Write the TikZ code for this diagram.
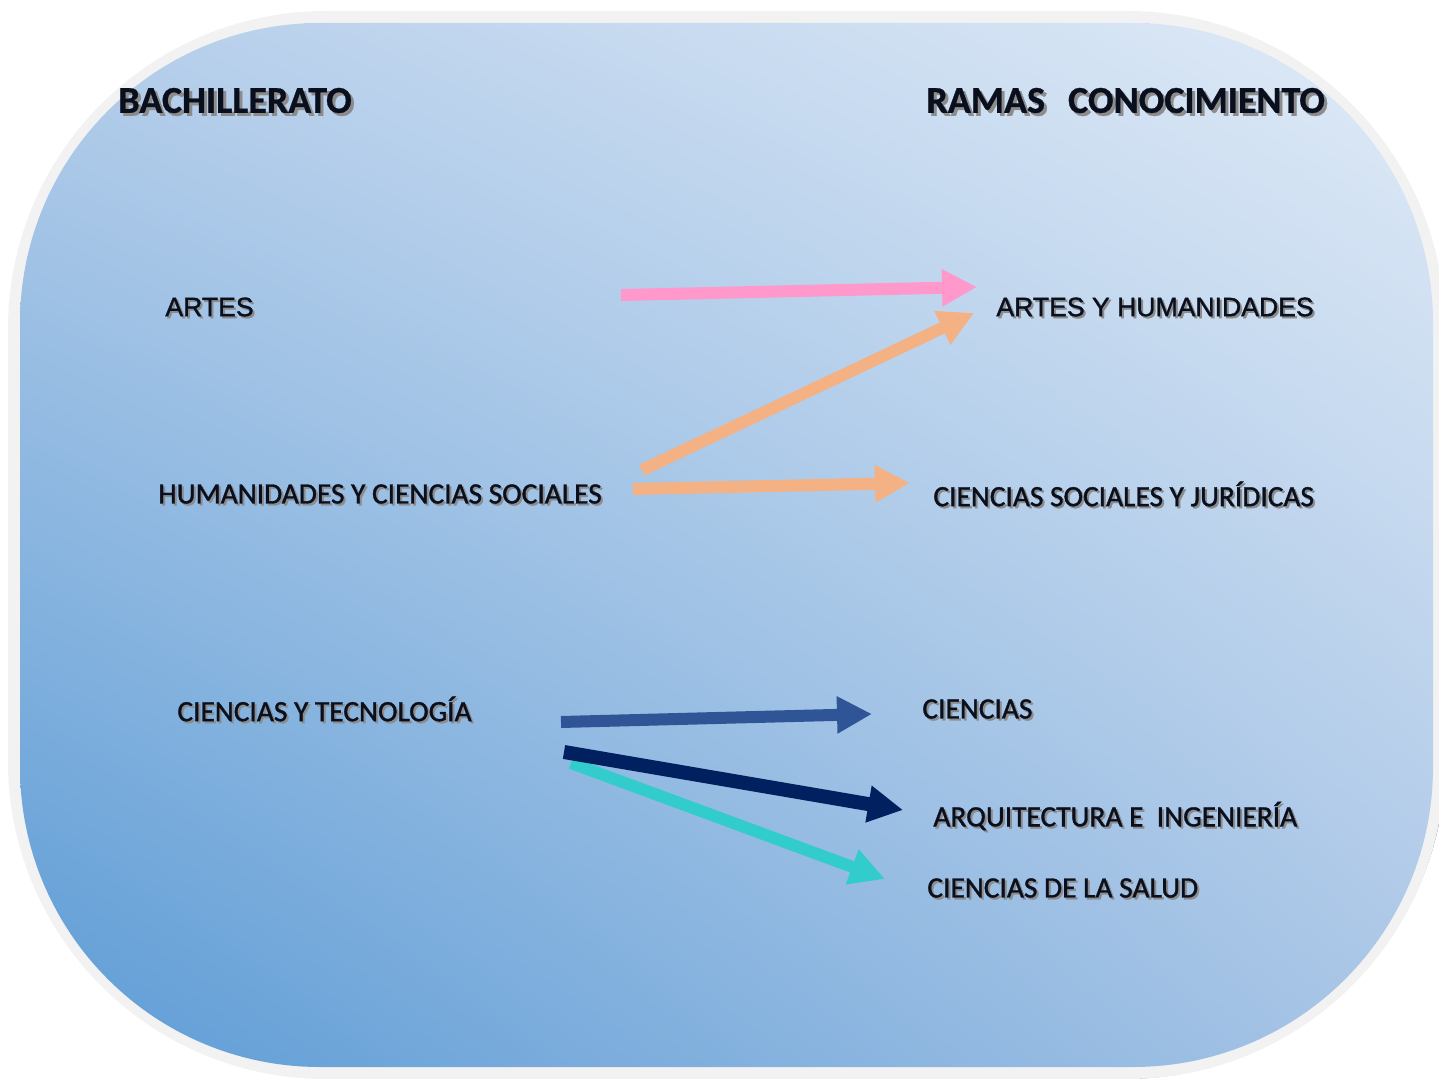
\documentclass[tikz,border=0pt]{standalone}
\usepackage{fontspec}
\setmainfont{Carlito}
\newfontfamily\arialf{Liberation Sans}
\usetikzlibrary{arrows.meta,shadings}
\definecolor{bgLL}{HTML}{5B9BD5}
\definecolor{bgLR}{HTML}{A9C5E6}
\definecolor{bgUL}{HTML}{B4CDEA}
\definecolor{bgUR}{HTML}{E0EBF7}
\definecolor{frameg}{HTML}{F2F2F2}
\definecolor{shadowg}{HTML}{8C8C8C}
\definecolor{txtc}{HTML}{0A0F1E}
\definecolor{apink}{HTML}{FF99CC}
\definecolor{aorange}{HTML}{F4B183}
\definecolor{ablue}{HTML}{2F5597}
\definecolor{anavy}{HTML}{002060}
\definecolor{ateal}{HTML}{33CCCC}
\newcommand\shdtxt[2]{\leavevmode\rlap{\kern#1\raisebox{-#1}{\color{shadowg}#2}}#2}
\tikzset{
  head/.style={anchor=west, inner sep=0pt, text=txtc, font=\fontsize{19pt}{22pt}\selectfont\bfseries\addfontfeature{FakeBold=0.8}},
  item/.style={anchor=west, inner sep=0pt, text=txtc, font=\fontsize{14.7pt}{18pt}\selectfont\addfontfeature{FakeBold=1.2}},
  itema/.style={anchor=west, inner sep=0pt, text=txtc, font=\arialf\fontsize{13.3pt}{16pt}\selectfont\addfontfeature{FakeBold=1.2}},
  arr/.style={line width=6pt, -{Triangle[length=17.5pt,width=17.5pt]}},
}
\begin{document}
\begin{tikzpicture}[x=0.5pt,y=-0.5pt]
\useasboundingbox (0,0) rectangle (1439,1079);
\clip (0,0) rectangle (1439,1079);
% shadow of the frame
\draw[line width=2pt, color=ablue!70!white, rounded corners=160] (18,21) rectangle (1444,1077);
% frame
\draw[line width=6pt, color=frameg, rounded corners=156] (14,17) rectangle (1439,1073);
\shade[upper left=bgUL, upper right=bgUR, lower left=bgLL, lower right=bgLR, rounded corners=150] (20,23) rectangle (1433,1067);

% titles
\node[head] (hbach) at (118,102) {\shdtxt{1.5pt}{BACHILLERATO}};
\node[head] (hramas) at (926,102) {\shdtxt{1.5pt}{RAMAS\hspace{0.38em} CONOCIMIENTO}};

% left column
\node[itema] (artes) at (165,308) {\shdtxt{1pt}{ARTES}};
\node[item] (hcs) at (158,495) {\shdtxt{1pt}{HUMANIDADES Y CIENCIAS SOCIALES}};
\node[item] (cyt) at (177,710) {\shdtxt{1pt}{CIENCIAS Y TECNOLOGÍA}};

% right column
\node[itema] (ayh) at (996,308) {\shdtxt{1pt}{ARTES Y HUMANIDADES}};
\node[item] (csj) at (933,495) {\shdtxt{1pt}{CIENCIAS SOCIALES Y JURÍDICAS}};
\node[item] (cie) at (922,710) {\shdtxt{1pt}{CIENCIAS}};
\node[item] (aei) at (933,817) {\shdtxt{1pt}{ARQUITECTURA E\ \ INGENIERÍA}};
\node[item] (cds) at (927,889) {\shdtxt{1pt}{CIENCIAS DE LA SALUD}};

% arrow end points
\coordinate (p1s) at (621,295);  \coordinate (p1e) at (977,287);
\coordinate (o1s) at (642,470);  \coordinate (o1e) at (974,313);
\coordinate (o2s) at (633,489);  \coordinate (o2e) at (910,483);
\coordinate (b1s) at (561,722);  \coordinate (b1e) at (872,714);
\coordinate (n1s) at (564,752);  \coordinate (n1e) at (903,810);
\coordinate (t1s) at (571,763);  \coordinate (t1e) at (885,879);

\draw[arr, color=apink] (p1s) -- (p1e);
\draw[arr, color=aorange] (o1s) -- (o1e);
\draw[arr, color=aorange] (o2s) -- (o2e);
\draw[arr, color=ablue] (b1s) -- (b1e);
\draw[arr, color=ateal] (t1s) -- (t1e);
\draw[arr, color=anavy, line width=7pt] (n1s) -- (n1e);
\end{tikzpicture}
\end{document}
